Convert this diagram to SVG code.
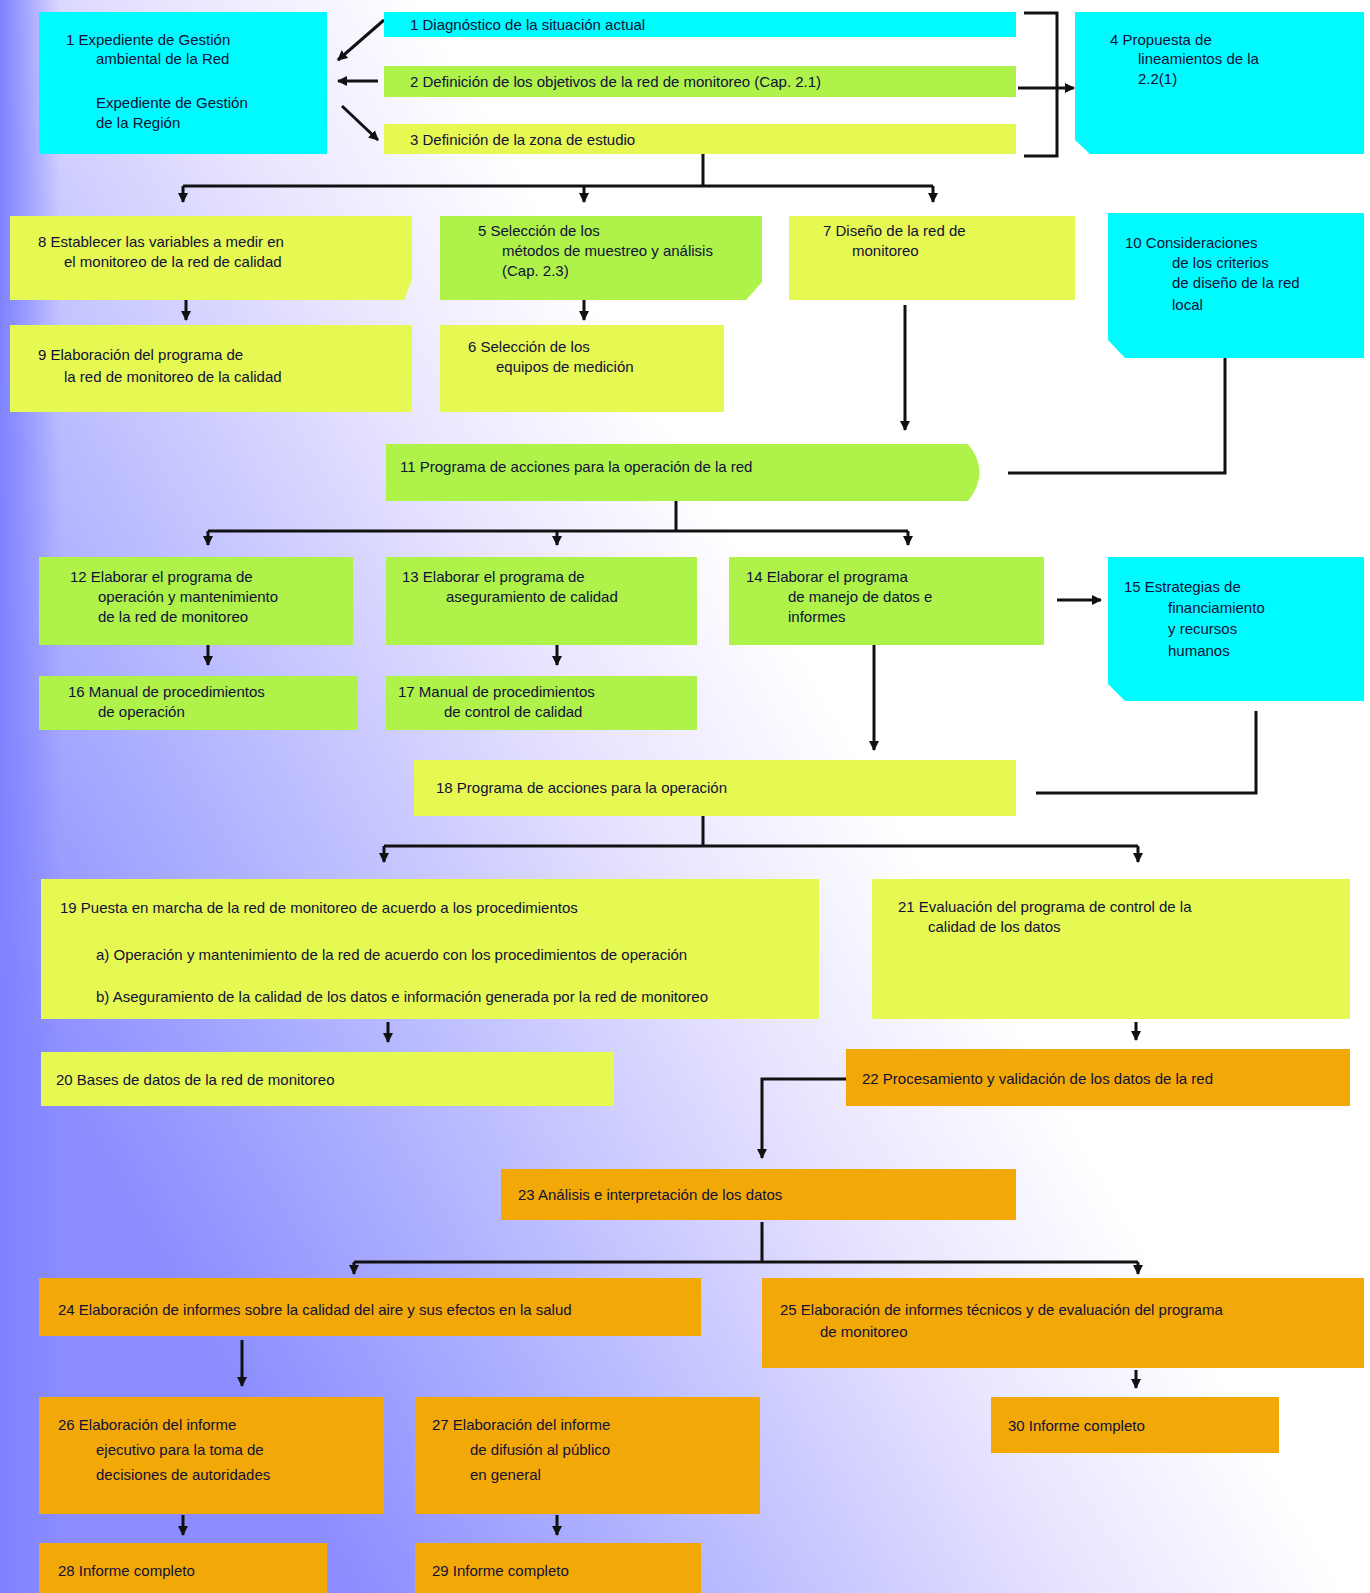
<svg xmlns="http://www.w3.org/2000/svg" width="1370" height="1593" viewBox="0 0 1370 1593">
<defs>
<linearGradient id="bg" gradientUnits="userSpaceOnUse" x1="0" y1="1000" x2="1000" y2="420">
<stop offset="0" stop-color="#8a8cff"/>
<stop offset="0.25" stop-color="#b2b4ff"/>
<stop offset="0.55" stop-color="#e8e4ff"/>
<stop offset="0.75" stop-color="#ffffff"/>
</linearGradient>
<linearGradient id="edge" x1="0" y1="0" x2="1" y2="0">
<stop offset="0" stop-color="#7f82ff"/>
<stop offset="1" stop-color="#7f82ff" stop-opacity="0"/>
</linearGradient>
<marker id="ah" markerUnits="userSpaceOnUse" markerWidth="10" markerHeight="10" refX="9" refY="5" orient="auto">
<path d="M0,0 L10,5 L0,10 z" fill="#111"/>
</marker>
</defs>
<style>
.cy{fill:#00fbff}
.gr{fill:#aef24a}
.ye{fill:#e6f852}
.or{fill:#f2a806}
text{font-family:"Liberation Sans",Arial,sans-serif;font-size:15px;fill:#101038}
.c{stroke:#111;stroke-width:3;fill:none}
.a{marker-end:url(#ah)}
</style>
<rect x="0" y="0" width="1370" height="1593" fill="url(#bg)"/>
<rect x="0" y="0" width="60" height="1593" fill="url(#edge)"/>

<g id="connectors">
<path class="c a" d="M384,20 L338,60"/>
<path class="c a" d="M378,81 L338,81"/>
<path class="c a" d="M342,106 L378,140"/>
<path class="c" d="M1024,13 H1057 V156 H1024"/>
<path class="c a" d="M1018,88 H1074"/>
<path class="c" d="M703,154 V186 M183,186 H933"/>
<path class="c a" d="M183,186 V202"/>
<path class="c a" d="M584,186 V202"/>
<path class="c a" d="M933,186 V202"/>
<path class="c a" d="M186,300 V320"/>
<path class="c a" d="M584,300 V320"/>
<path class="c a" d="M905,305 V430"/>
<path class="c" d="M1225,358 V473 H1008"/>
<path class="c" d="M676,501 V531 M208,531 H908"/>
<path class="c a" d="M208,531 V545"/>
<path class="c a" d="M557,531 V545"/>
<path class="c a" d="M908,531 V545"/>
<path class="c a" d="M208,645 V665"/>
<path class="c a" d="M557,645 V665"/>
<path class="c a" d="M1057,600 H1101"/>
<path class="c a" d="M874,645 V750"/>
<path class="c" d="M1256,711 V793 H1036"/>
<path class="c" d="M703,816 V846 M384,846 H1138"/>
<path class="c a" d="M384,846 V862"/>
<path class="c a" d="M1138,846 V862"/>
<path class="c a" d="M388,1022 V1042"/>
<path class="c a" d="M1136,1022 V1040"/>
<path class="c a" d="M846,1079 H762 V1158"/>
<path class="c" d="M762,1222 V1262 M354,1262 H1138"/>
<path class="c a" d="M354,1262 V1274"/>
<path class="c a" d="M1138,1262 V1274"/>
<path class="c a" d="M242,1340 V1386"/>
<path class="c a" d="M1136,1370 V1388"/>
<path class="c a" d="M183,1515 V1535"/>
<path class="c a" d="M557,1515 V1535"/>
</g>

<g id="n1"><rect class="cy" x="39" y="12" width="288" height="142"/>
<text x="66" y="45">1  Expediente de Gestión</text><text x="96" y="64">ambiental de la Red</text>
<text x="96" y="108">Expediente de Gestión</text><text x="96" y="128">de la Región</text></g>
<g id="b1"><rect class="cy" x="384" y="12" width="632" height="25"/><text x="410" y="30">1  Diagnóstico de la situación actual</text></g>
<g id="b2"><rect class="gr" x="384" y="66" width="632" height="31"/><text x="410" y="87">2  Definición de los objetivos de la red de monitoreo (Cap. 2.1)</text></g>
<g id="b3"><rect class="ye" x="384" y="124" width="632" height="30"/><text x="410" y="145">3  Definición de la zona de estudio</text></g>
<g id="n4"><path class="cy" d="M1075,12 H1364 V154 H1090 L1075,140 Z"/>
<text x="1110" y="45">4  Propuesta de</text><text x="1138" y="64">lineamientos de la</text><text x="1138" y="84">2.2(1)</text></g>

<g id="n8"><path class="ye" d="M10,216 H412 V280 L404,300 H10 Z"/><text x="38" y="247">8  Establecer las variables a medir en</text><text x="64" y="267">el monitoreo de la red de calidad</text></g>
<g id="n5"><path class="gr" d="M440,216 H762 V282 L746,300 H440 Z"/><text x="478" y="236">5  Selección de los</text><text x="502" y="256">métodos de muestreo y análisis</text><text x="502" y="276">(Cap. 2.3)</text></g>
<g id="n7"><rect class="ye" x="789" y="216" width="286" height="84"/><text x="823" y="236">7  Diseño de la red de</text><text x="852" y="256">monitoreo</text></g>
<g id="n10"><path class="cy" d="M1108,213 H1364 V358 H1125 L1108,340 Z"/><text x="1125" y="248">10  Consideraciones</text><text x="1172" y="268">de los criterios</text><text x="1172" y="288">de diseño de la red</text><text x="1172" y="310">local</text></g>

<g id="n9"><rect class="ye" x="10" y="325" width="402" height="87"/><text x="38" y="360">9  Elaboración del programa de</text><text x="64" y="382">la red de monitoreo de la calidad</text></g>
<g id="n6"><rect class="ye" x="440" y="325" width="284" height="87"/><text x="468" y="352">6  Selección de los</text><text x="496" y="372">equipos de medición</text></g>

<g id="n11"><path class="gr" d="M386,444 H968 Q991,472 968,501 H386 Z"/><text x="400" y="472">11  Programa de acciones para la operación de la red</text></g>

<g id="n12"><rect class="gr" x="39" y="557" width="314" height="88"/><text x="70" y="582">12  Elaborar el programa de</text><text x="98" y="602">operación y mantenimiento</text><text x="98" y="622">de la red de monitoreo</text></g>
<g id="n13"><rect class="gr" x="386" y="557" width="311" height="88"/><text x="402" y="582">13  Elaborar el programa de</text><text x="446" y="602">aseguramiento de calidad</text></g>
<g id="n14"><rect class="gr" x="729" y="557" width="315" height="88"/><text x="746" y="582">14  Elaborar el programa</text><text x="788" y="602">de manejo de datos e</text><text x="788" y="622">informes</text></g>
<g id="n15"><path class="cy" d="M1108,557 H1364 V701 H1125 L1108,684 Z"/><text x="1124" y="592">15  Estrategias de</text><text x="1168" y="613">financiamiento</text><text x="1168" y="634">y recursos</text><text x="1168" y="656">humanos</text></g>

<g id="n16"><rect class="gr" x="39" y="676" width="319" height="54"/><text x="68" y="697">16  Manual de procedimientos</text><text x="98" y="717">de operación</text></g>
<g id="n17"><rect class="gr" x="386" y="676" width="311" height="54"/><text x="398" y="697">17  Manual de procedimientos</text><text x="444" y="717">de control de calidad</text></g>

<g id="n18"><rect class="ye" x="414" y="760" width="602" height="56"/><text x="436" y="793">18  Programa de acciones para la operación</text></g>

<g id="n19"><rect class="ye" x="41" y="879" width="778" height="140"/><text x="60" y="913">19  Puesta en marcha de la red de monitoreo de acuerdo a los procedimientos</text>
<text x="96" y="960">a) Operación y mantenimiento de la red de acuerdo con los procedimientos de operación</text>
<text x="96" y="1002">b) Aseguramiento de la calidad de los datos e información generada por la red de monitoreo</text></g>
<g id="n21"><rect class="ye" x="872" y="879" width="478" height="140"/><text x="898" y="912">21  Evaluación del programa de control de la</text><text x="928" y="932">calidad de los datos</text></g>

<g id="n20"><rect class="ye" x="41" y="1052" width="573" height="54"/><text x="56" y="1085">20  Bases de datos de la red de monitoreo</text></g>
<g id="n22"><rect class="or" x="846" y="1049" width="504" height="57"/><text x="862" y="1084">22  Procesamiento y validación de los datos de la red</text></g>

<g id="n23"><rect class="or" x="501" y="1169" width="515" height="51"/><text x="518" y="1200">23  Análisis e interpretación de los datos</text></g>

<g id="n24"><rect class="or" x="39" y="1278" width="662" height="58"/><text x="58" y="1315">24  Elaboración de informes sobre la calidad del aire y sus efectos en la salud</text></g>
<g id="n25"><rect class="or" x="762" y="1278" width="602" height="90"/><text x="780" y="1315">25  Elaboración de informes técnicos y de evaluación del programa</text><text x="820" y="1337">de monitoreo</text></g>

<g id="n26"><rect class="or" x="39" y="1397" width="345" height="117"/><text x="58" y="1430">26  Elaboración del informe</text><text x="96" y="1455">ejecutivo para la toma de</text><text x="96" y="1480">decisiones de autoridades</text></g>
<g id="n27"><rect class="or" x="415" y="1397" width="345" height="117"/><text x="432" y="1430">27  Elaboración del informe</text><text x="470" y="1455">de difusión al público</text><text x="470" y="1480">en general</text></g>
<g id="n30"><rect class="or" x="991" y="1397" width="288" height="56"/><text x="1008" y="1431">30  Informe completo</text></g>

<g id="n28"><rect class="or" x="39" y="1543" width="288" height="50"/><text x="58" y="1576">28  Informe completo</text></g>
<g id="n29"><rect class="or" x="415" y="1543" width="286" height="50"/><text x="432" y="1576">29  Informe completo</text></g>
</svg>
